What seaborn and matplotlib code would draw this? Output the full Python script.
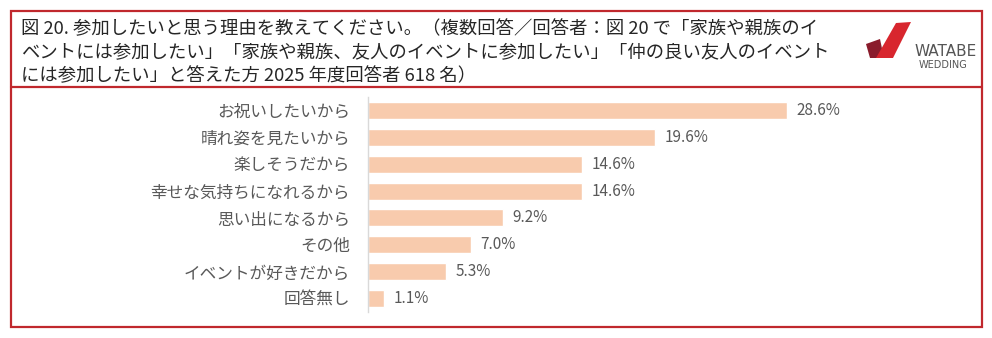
import matplotlib
matplotlib.use("Agg")
import matplotlib.pyplot as plt
import seaborn as sns
import pandas as pd
from matplotlib.patches import Polygon, Rectangle

# ---- data ----
categories = ["お祝いしたいから", "晴れ姿を見たいから", "楽しそうだから", "幸せな気持ちになれるから",
              "思い出になるから", "その他", "イベントが好きだから", "回答無し"]
values = [28.6, 19.6, 14.6, 14.6, 9.2, 7.0, 5.3, 1.1]
value_labels = [f"{v:.1f}%" for v in values]
title_lines = [
    "図 20. 参加したいと思う理由を教えてください。（複数回答／回答者：図 20 で「家族や親族のイ",
    "ベントには参加したい」「家族や親族、友人のイベントに参加したい」「仲の良い友人のイベント",
    "には参加したい」と答えた方 2025 年度回答者 618 名）",
]

sns.set_style("white")
plt.rcParams["font.family"] = ["Noto Sans CJK JP", "DejaVu Sans"]

W, H = 992, 338
fig = plt.figure(figsize=(W / 100, H / 100), dpi=100)
fig.patch.set_facecolor("white")

# background axes in pixel coordinates for frame, title, logo
bg = fig.add_axes([0, 0, 1, 1])
bg.set_xlim(0, W)
bg.set_ylim(H, 0)
bg.axis("off")

red = "#C0282D"
bg.add_patch(Rectangle((10.5, 11), 971.5, 316, fill=False, edgecolor=red, lw=1.6))
bg.plot([10.5, 982], [87, 87], color=red, lw=1.6)

for i, line in enumerate(title_lines):
    bg.text(21, 29 + i * 23.5, line, fontsize=13.2, color="#262626", va="center", ha="left")

# logo
bg.add_patch(Polygon([(866, 44), (880, 39), (884, 58), (870, 58)], closed=True,
                     facecolor="#8A1C2C", edgecolor="none"))
bg.add_patch(Polygon([(876, 58), (896, 23), (911, 22), (893, 58)], closed=True,
                     facecolor="#D8262E", edgecolor="none"))
bg.text(946, 52, "WATABE", fontsize=11, color="#555555", ha="center", va="center",
        family=["DejaVu Sans"])
bg.text(943, 65, "WEDDING", fontsize=7, color="#555555", ha="center", va="center",
        family=["DejaVu Sans"])

# chart axes
ax = fig.add_axes([368 / W, (H - 312) / H, 586 / W, 215 / H])
df = pd.DataFrame({"cat": categories, "val": values})
sns.barplot(data=df, y="cat", x="val", color="#F8CBAD", saturation=1, width=0.63,
            ax=ax, orient="h")
ax.set_xlim(0, 40)
ax.set_ylim(7.5, -0.5)
ax.set_xlabel("")
ax.set_ylabel("")
ax.set_xticks([])
for s in ["top", "right", "bottom"]:
    ax.spines[s].set_visible(False)
ax.spines["left"].set_color("#D9D9D9")
ax.spines["left"].set_linewidth(1.0)
ax.tick_params(axis="y", length=0, pad=13, labelsize=12, labelcolor="#595959")
ax.set_facecolor("none")
ax.bar_label(ax.containers[0], labels=value_labels, padding=7, fontsize=11, color="#595959")

fig.savefig("out.png", dpi=100)
